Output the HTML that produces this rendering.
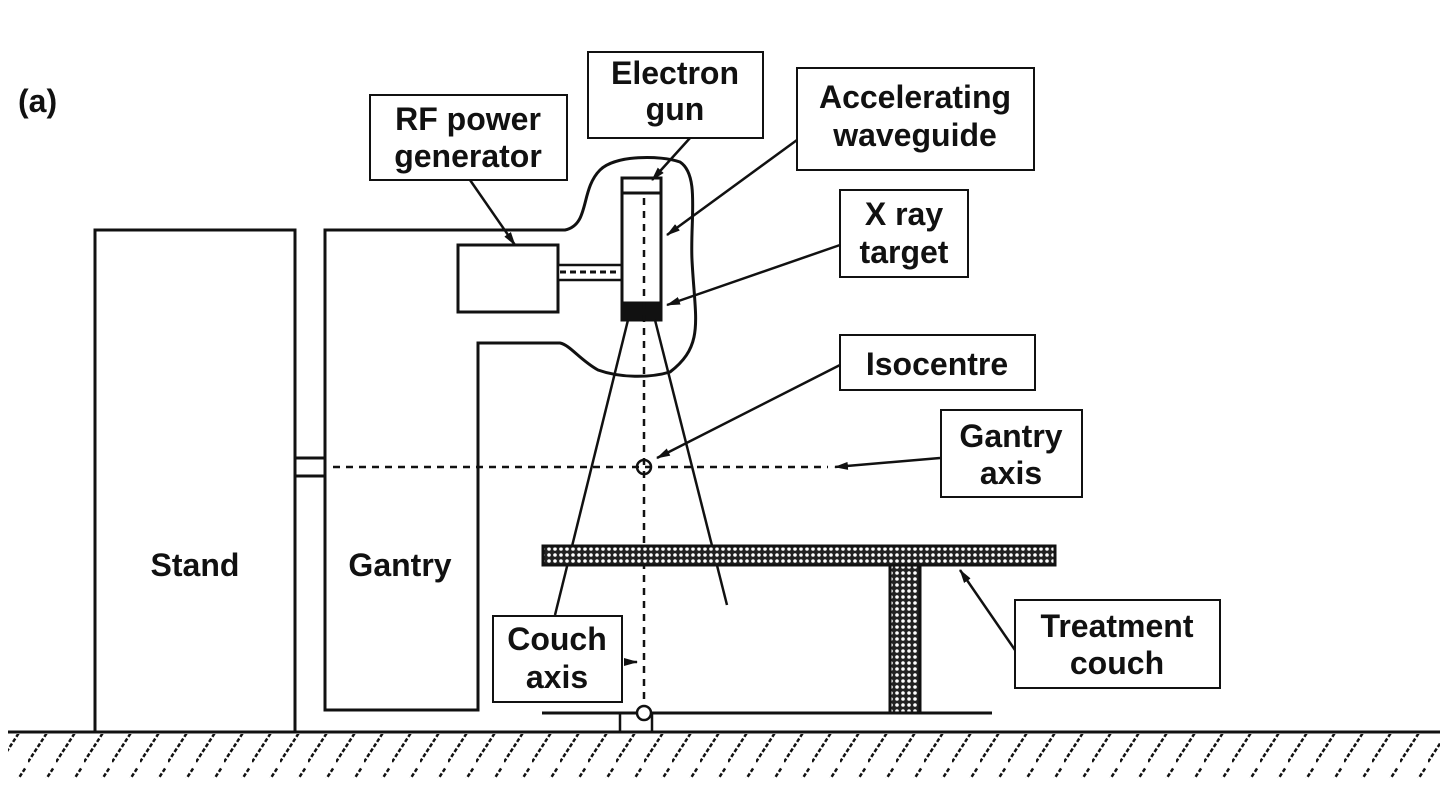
<!DOCTYPE html>
<html><head><meta charset="utf-8"><style>
html,body{margin:0;padding:0;background:#fff;}
svg{display:block;}
text{font-family:"Liberation Sans",sans-serif;font-weight:bold;font-size:32px;fill:#111;stroke:none;}
</style></head><body>
<svg width="1444" height="798" viewBox="0 0 1444 798">
<defs>
<pattern id="dots" width="6" height="6" patternUnits="userSpaceOnUse"><rect width="6" height="6" fill="#222"/><circle cx="3" cy="3" r="1.8" fill="#fff"/></pattern>
<pattern id="hatch" width="28" height="45" patternUnits="userSpaceOnUse"><line x1="0" y1="42" x2="26" y2="2" stroke="#111" stroke-width="2.5" stroke-dasharray="4,2"/></pattern>
<marker id="ah" markerUnits="userSpaceOnUse" markerWidth="14" markerHeight="10" refX="13" refY="5" orient="auto"><path d="M0,1 L14,5 L0,9 Z" fill="#111"/></marker>
</defs>
<text x="18" y="112">(a)</text>
<g fill="none" stroke="#111" stroke-width="3">
<line x1="8" y1="732" x2="1440" y2="732"/>
<rect x="8" y="734" width="1432" height="44" fill="url(#hatch)" stroke="none"/>
<rect x="95" y="230" width="200" height="502"/>
<line x1="295" y1="458" x2="325" y2="458"/><line x1="295" y1="476" x2="325" y2="476"/>
<path d="M325,710 L325,230 L565,230 C590,225 580,190 600,170 C615,155 660,155 680,162 C700,175 690,220 692,260 C695,320 705,345 670,372 C650,378 620,378 598,370 C580,360 570,345 560,343 L478,343 L478,710 Z"/>
<rect x="458" y="245" width="100" height="67" fill="#fff"/>
<rect x="558" y="265" width="64" height="15" fill="#fff" stroke-width="2.5"/>
<line x1="560" y1="272" x2="620" y2="272" stroke-dasharray="6,4" stroke-width="3"/>
<rect x="622" y="178" width="39" height="142" fill="#fff"/>
<line x1="622" y1="193" x2="661" y2="193"/>
<rect x="622" y="303" width="39" height="17" fill="#111"/>
<line x1="628" y1="320" x2="555" y2="615" stroke-width="2.5"/>
<line x1="655" y1="320" x2="727" y2="605" stroke-width="2.5"/>
<line x1="644" y1="198" x2="644" y2="712" stroke-dasharray="7,6" stroke-width="2.5"/>
<line x1="333" y1="467" x2="828" y2="467" stroke-dasharray="7,6" stroke-width="2.5"/>
<circle cx="644" cy="467" r="7" stroke-width="2.5"/>
<rect x="543" y="546" width="512" height="19" fill="url(#dots)"/>
<rect x="890" y="565" width="30" height="148" fill="url(#dots)"/>
<line x1="542" y1="713" x2="992" y2="713"/>
<rect x="620" y="713" width="32" height="19" stroke-width="2.5"/>
<circle cx="644" cy="713" r="7" fill="#fff" stroke-width="2.5"/>
<rect x="588" y="52" width="175" height="86" stroke-width="2" fill="#fff"/>
<rect x="370" y="95" width="197" height="85" stroke-width="2" fill="#fff"/>
<rect x="797" y="68" width="237" height="102" stroke-width="2" fill="#fff"/>
<rect x="840" y="190" width="128" height="87" stroke-width="2" fill="#fff"/>
<rect x="840" y="335" width="195" height="55" stroke-width="2" fill="#fff"/>
<rect x="941" y="410" width="141" height="87" stroke-width="2" fill="#fff"/>
<rect x="1015" y="600" width="205" height="88" stroke-width="2" fill="#fff"/>
<rect x="493" y="616" width="129" height="86" stroke-width="2" fill="#fff"/>
<g stroke-width="2.5" marker-end="url(#ah)">
<line x1="690" y1="138" x2="652" y2="180"/>
<line x1="797" y1="140" x2="667" y2="235"/>
<line x1="840" y1="245" x2="667" y2="305"/>
<line x1="840" y1="365" x2="657" y2="458"/>
<line x1="940" y1="458" x2="835" y2="467"/>
<line x1="1015" y1="650" x2="960" y2="570"/>
<line x1="470" y1="180" x2="515" y2="245"/>
<line x1="626" y1="662" x2="637" y2="662"/>
</g>
</g>
<g text-anchor="middle">
<text x="675" y="84">Electron</text>
<text x="675" y="120">gun</text>
<text x="468" y="130">RF power</text>
<text x="468" y="167">generator</text>
<text x="915" y="108">Accelerating</text>
<text x="915" y="146">waveguide</text>
<text x="904" y="225">X ray</text>
<text x="904" y="263">target</text>
<text x="937" y="375">Isocentre</text>
<text x="1011" y="447">Gantry</text>
<text x="1011" y="484">axis</text>
<text x="1117" y="637">Treatment</text>
<text x="1117" y="674">couch</text>
<text x="557" y="650">Couch</text>
<text x="557" y="688">axis</text>
<text x="195" y="576">Stand</text>
<text x="400" y="576">Gantry</text>
</g>
</svg>
</body></html>
